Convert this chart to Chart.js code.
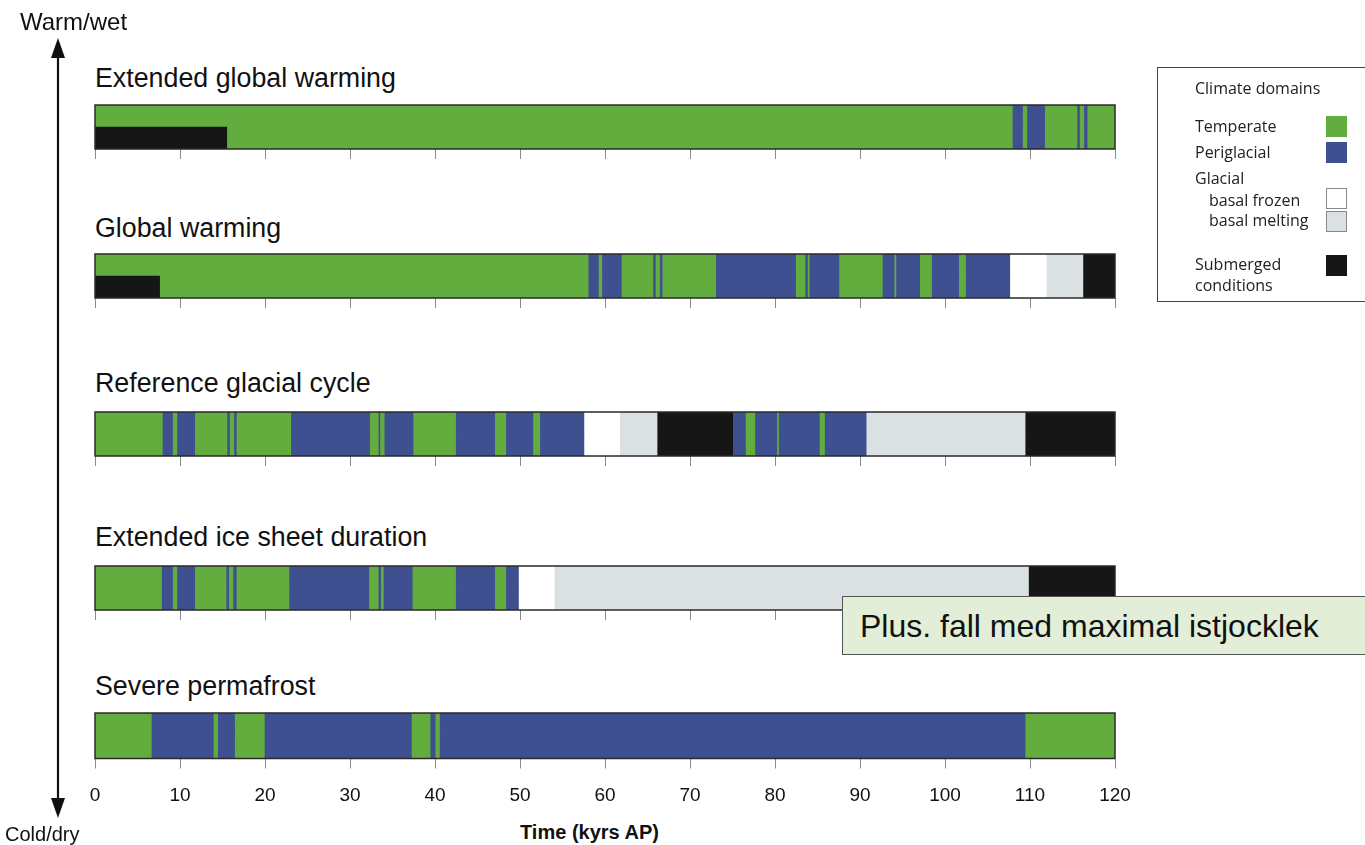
<!DOCTYPE html>
<html>
<head>
<meta charset="utf-8">
<script src="https://cdn.jsdelivr.net/npm/chart.js@4.4.0/dist/chart.umd.min.js"></script>
<style>
body { margin: 0; background: #fff; width: 1365px; height: 845px; overflow: hidden; position: relative; font-family: "Liberation Sans", Arial, sans-serif; color: #111; }
.titulo { position: absolute; left: 95px; font-size: 26.8px; line-height: 26px; white-space: nowrap; }
canvas { position: absolute; left: 60px; }
.eje_txt { position: absolute; white-space: nowrap; line-height: 1; }
#leyenda { position: absolute; left: 1157px; top: 67px; width: 220px; height: 233px; border: 1.5px solid #444; font-family: "Open Sans", sans-serif; font-size: 16px; color: #222; }
#leyenda div { position: absolute; white-space: nowrap; line-height: 1; }
#leyenda .caja { width: 21px; height: 21px; left: 168px; box-sizing: border-box; }
#nota { position: absolute; left: 842px; top: 596px; width: 540px; height: 59px; background: #e3eed9; border: 1px solid #555; font-size: 32px; line-height: 59px; padding-left: 17px; box-sizing: border-box; white-space: nowrap; }
</style>
</head>
<body>
<div id="contenedor"></div>

<svg width="120" height="845" style="position:absolute;left:0;top:0">
  <line x1="58" y1="50" x2="58" y2="806" stroke="#111" stroke-width="2.2"/>
  <polygon points="58,38 51,58 65,58" fill="#111"/>
  <polygon points="58,818 51,798 65,798" fill="#111"/>
</svg>
<div class="eje_txt" style="left:20px;top:10px;font-size:24px">Warm/wet</div>
<div class="eje_txt" style="left:5px;top:824px;font-size:20px">Cold/dry</div>
<div class="eje_txt" style="left:520px;top:822px;font-size:20px;font-weight:bold">Time (kyrs AP)</div>

<div id="leyenda"></div>
<div id="nota">Plus. fall med maximal istjocklek</div>

<script>
// climate domain codes: T temperate, P periglacial, F glacial basal frozen, M glacial basal melting, S submerged
const escenarios = ["Extended global warming", "Global warming", "Reference glacial cycle", "Extended ice sheet duration", "Severe permafrost"]
const ticks_x = [0, 10, 20, 30, 40, 50, 60, 70, 80, 90, 100, 110, 120]

// Extended global warming
const bordes_egw = [0, 108.0, 109.2, 109.7, 111.8, 115.6, 115.9, 116.4, 116.8, 120]
const dominios_egw = ["T", "P", "T", "P", "T", "P", "T", "P", "T"]
const sumergido_egw = 15.5

// Global warming
const bordes_gw = [0, 58.1, 59.3, 59.7, 62.0, 65.7, 66.0, 66.5, 66.8, 73.1, 82.5, 83.6, 83.9, 84.1, 87.6, 92.7, 94.1, 94.3, 97.1, 98.5, 101.7, 102.5, 107.7, 112.0, 116.3, 120]
const dominios_gw = ["T", "P", "T", "P", "T", "P", "T", "P", "T", "P", "T", "P", "T", "P", "T", "P", "T", "P", "T", "P", "T", "P", "F", "M", "S"]
const sumergido_gw = 7.6

// Reference glacial cycle
const bordes_ref = [0, 8.0, 9.2, 9.7, 11.8, 15.6, 15.9, 16.4, 16.7, 23.1, 32.4, 33.4, 33.6, 34.1, 37.5, 42.5, 47.1, 48.4, 51.6, 52.4, 57.6, 61.8, 66.2, 75.1, 76.6, 77.7, 80.3, 80.5, 85.3, 85.9, 90.8, 109.5, 120]
const dominios_ref = ["T", "P", "T", "P", "T", "P", "T", "P", "T", "P", "T", "P", "T", "P", "T", "P", "T", "P", "T", "P", "F", "M", "S", "P", "T", "P", "T", "P", "T", "P", "M", "S"]
const sumergido_ref = 0

// Extended ice sheet duration
const bordes_eisd = [0, 7.9, 9.2, 9.7, 11.8, 15.5, 15.8, 16.3, 16.7, 22.9, 32.3, 33.4, 33.7, 34.0, 37.4, 42.5, 47.1, 48.4, 49.9, 54.1, 109.9, 120]
const dominios_eisd = ["T", "P", "T", "P", "T", "P", "T", "P", "T", "P", "T", "P", "T", "P", "T", "P", "T", "P", "F", "M", "S"]
const sumergido_eisd = 0

// Severe permafrost
const bordes_sp = [0, 6.7, 14.0, 14.5, 16.5, 20.0, 37.3, 39.5, 40.1, 40.6, 109.5, 120]
const dominios_sp = ["T", "P", "T", "P", "T", "P", "T", "P", "T", "P", "T"]
const sumergido_sp = 0

const colores = { T: "#63ad3e", P: "#3e5090", F: "#ffffff", M: "#dbe0e2", S: "#161616" }

const datos_escenarios = [
    [bordes_egw, dominios_egw, sumergido_egw],
    [bordes_gw, dominios_gw, sumergido_gw],
    [bordes_ref, dominios_ref, sumergido_ref],
    [bordes_eisd, dominios_eisd, sumergido_eisd],
    [bordes_sp, dominios_sp, sumergido_sp]
]

// layout only
const barra_top = [105, 254, 412, 566, 713]
const titulo_top = [65, 215, 370, 524, 673]

const marco = {
    id: "marco",
    afterDatasetsDraw(chart) {
        const a = chart.chartArea
        const ctx = chart.ctx
        ctx.save()
        ctx.strokeStyle = "#2a2a2a"
        ctx.lineWidth = 1.5
        ctx.strokeRect(a.left, a.top, a.right - a.left, a.bottom - a.top)
        ctx.restore()
    }
}

function armar_puntos(bordes, dominios, sumergido) {
    const puntos = []
    const fondo = []
    for (const fila of ["arriba", "abajo"]) {
        for (let i = 0; i < dominios.length; i++) {
            puntos.push({ x: [bordes[i], bordes[i + 1]], y: fila })
            fondo.push(colores[dominios[i]])
        }
    }
    // submerged conditions only on the lower half at the start
    if (sumergido > 0) {
        puntos.push({ x: [0, sumergido], y: "abajo" })
        fondo.push(colores.S)
    }
    return { puntos, fondo }
}

function crear_grafico(indice) {
    const [bordes, dominios, sumergido] = datos_escenarios[indice]
    const ultimo = indice == escenarios.length - 1
    const contenedor = document.querySelector("#contenedor")

    const titulo = document.createElement("div")
    titulo.setAttribute("class", "titulo")
    titulo.style.top = titulo_top[indice] + "px"
    titulo.append(document.createTextNode(escenarios[indice]))
    contenedor.append(titulo)

    const canvas = document.createElement("canvas")
    canvas.width = 1100
    canvas.height = ultimo ? 99 : 58
    canvas.style.top = (barra_top[indice] - 2) + "px"
    contenedor.append(canvas)

    const { puntos, fondo } = armar_puntos(bordes, dominios, sumergido)

    new Chart(canvas, {
        type: "bar",
        data: {
            labels: ["arriba", "abajo"],
            datasets: [{
                data: puntos,
                backgroundColor: fondo,
                borderWidth: 0,
                barPercentage: 1,
                categoryPercentage: 1,
                grouped: false
            }]
        },
        options: {
            indexAxis: "y",
            responsive: false,
            animation: false,
            layout: { padding: { left: 35, right: 45, top: 2, bottom: ultimo ? 6 : 2 } },
            plugins: { legend: { display: false }, tooltip: { enabled: false } },
            scales: {
                x: {
                    type: "linear",
                    min: 0,
                    max: 120,
                    afterBuildTicks: (eje) => { eje.ticks = ticks_x.map(v => ({ value: v })) },
                    ticks: {
                        display: ultimo,
                        color: "#111",
                        padding: 18,
                        font: { family: "'Liberation Sans', Arial, sans-serif", size: 19, lineHeight: 1 }
                    },
                    grid: { drawOnChartArea: false, drawTicks: true, tickLength: 10, color: "#8a8a8a", lineWidth: 1 },
                    border: { display: false }
                },
                y: { display: false }
            }
        },
        plugins: [marco]
    })
}

function crear_leyenda() {
    const leyenda = document.querySelector("#leyenda")
    const textos = [
        ["Climate domains", 37, 12],
        ["Temperate", 37, 50],
        ["Periglacial", 37, 76],
        ["Glacial", 37, 102],
        ["basal frozen", 51, 124],
        ["basal melting", 51, 144],
        ["Submerged", 37, 188],
        ["conditions", 37, 209]
    ]
    for (const [txt, x, y] of textos) {
        const d = document.createElement("div")
        d.style.left = x + "px"
        d.style.top = y + "px"
        d.append(document.createTextNode(txt))
        leyenda.append(d)
    }
    const cajas = [["T", 48], ["P", 74], ["F", 120], ["M", 143], ["S", 187]]
    for (const [dom, y] of cajas) {
        const c = document.createElement("div")
        c.setAttribute("class", "caja")
        c.style.top = y + "px"
        c.style.background = colores[dom]
        if (dom == "F" || dom == "M") c.style.border = "1px solid #888"
        leyenda.append(c)
    }
}

function main() {
    for (let i = 0; i < escenarios.length; i++) {
        crear_grafico(i)
    }
    crear_leyenda()
}
main()
</script>
</body>
</html>
